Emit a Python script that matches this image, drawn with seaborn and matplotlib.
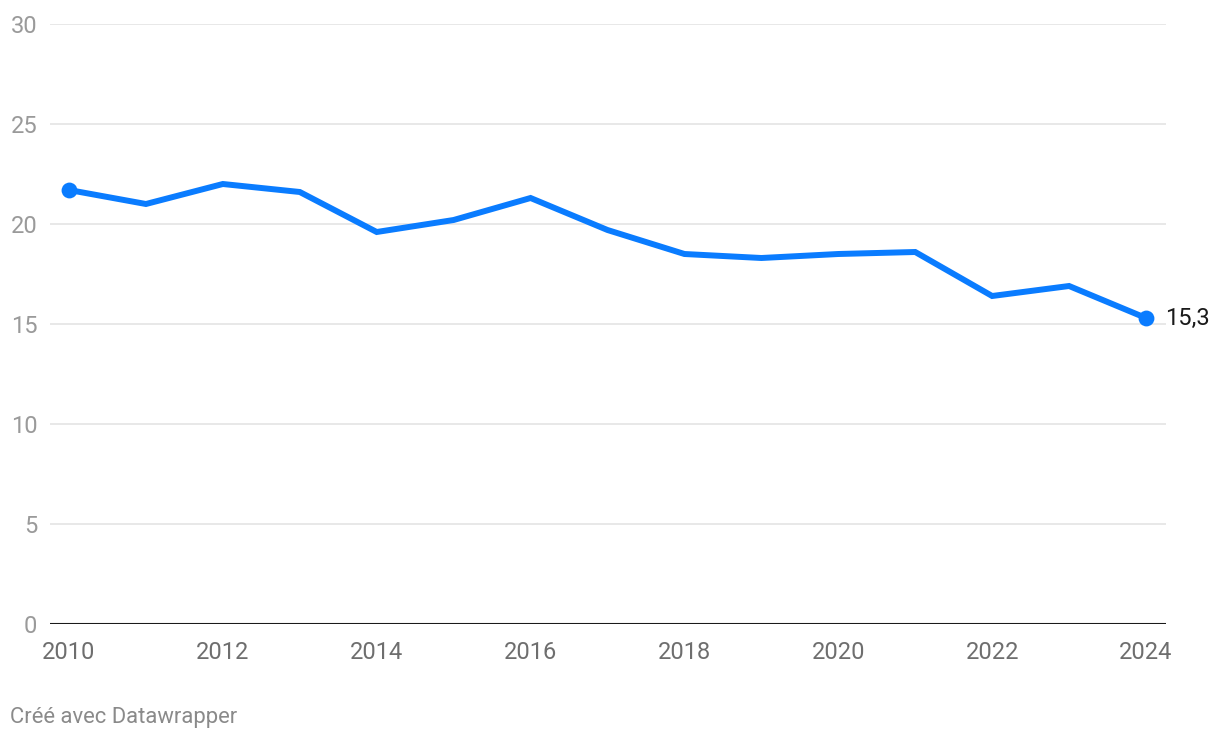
import pandas as pd
import seaborn as sns
import matplotlib
matplotlib.use("Agg")
import matplotlib.pyplot as plt

years = [2010, 2011, 2012, 2013, 2014, 2015, 2016, 2017, 2018, 2019, 2020, 2021, 2022, 2023, 2024]
values = [21.7, 21.0, 22.0, 21.6, 19.6, 20.2, 21.3, 19.7, 18.5, 18.3, 18.5, 18.6, 16.4, 16.9, 15.3]
yticks = [0, 5, 10, 15, 20, 25, 30]
xticks = [2010, 2012, 2014, 2016, 2018, 2020, 2022, 2024]

blue = "#0a7cff"

sns.set_style("white")
plt.rcParams['font.family'] = ['Roboto', 'DejaVu Sans']

df = pd.DataFrame({"year": years, "value": values})

fig = plt.figure(figsize=(12.2, 7.4), dpi=100)
ax = fig.add_axes([50/1220, 116/740, 1116/1220, 600/740])

for y in yticks[1:]:
    ax.axhline(y, color="#e2e2e2", lw=1.1, zorder=0)
ax.axhline(0, color="#1a1a1a", lw=1.5, zorder=1)

sns.lineplot(data=df, x="year", y="value", ax=ax, color=blue, lw=4.3,
             solid_joinstyle="miter", zorder=3)
ends = df.iloc[[0, -1]]
ax.scatter(ends["year"], ends["value"], s=130, color=blue, zorder=4, linewidths=0)

last = df.iloc[-1]
ax.annotate(f"{last['value']:.1f}".replace(".", ","), (last["year"], last["value"]),
            xytext=(14, 0), textcoords="offset points", va="center", ha="left",
            fontsize=17, color="#1a1a1a", annotation_clip=False)

ax.set_xlim(2010 - 19/76.93, 2024 + 20/76.93)
ax.set_ylim(0, 30)
ax.set_xticks(xticks)
ax.set_yticks(yticks)
ax.set_xlabel("")
ax.set_ylabel("")
ax.tick_params(axis="y", length=0, pad=9, labelsize=17, labelcolor="#9a9a9a")
ax.tick_params(axis="x", length=0, pad=12, labelsize=17, labelcolor="#6e6e6e")
for s in ax.spines.values():
    s.set_visible(False)

fig.text(10/1220, 1 - 717/740, "Créé avec Datawrapper", fontsize=15.8,
         color="#8a8a8a", va="center", ha="left")

fig.savefig("out.png", dpi=100)
